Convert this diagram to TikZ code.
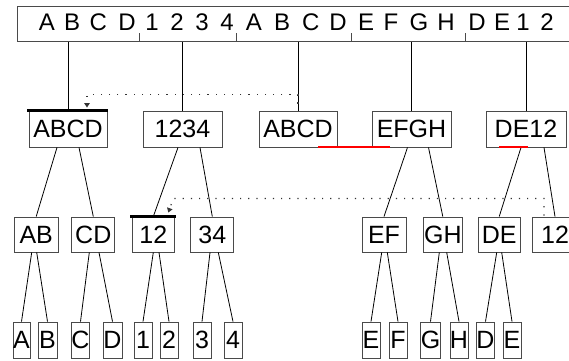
\documentclass[tikz,border=0pt]{standalone}
\usepackage{fontspec}
\setmainfont{Liberation Sans}
\usetikzlibrary{arrows.meta}
\definecolor{boxc}{HTML}{4A4A4A}
\definecolor{dotc}{HTML}{333333}
\begin{document}
\begin{tikzpicture}[x=1pt,y=-1pt,
  box/.style={draw=boxc, fill=white, line width=0.9pt, inner sep=0pt,
    font=\fontsize{25}{27}\selectfont},
  lvlone/.style={box, minimum height=36pt},
  lvltwo/.style={box, minimum height=35pt},
  leaf/.style={box, minimum height=36pt},
  ch/.style={inner sep=0pt, anchor=base, font=\fontsize{24}{26}\selectfont},
  edge/.style={line width=0.8pt, black},
  thickbar/.style={line width=3.5pt, black, shorten <=-1.5pt, shorten >=-1pt},
  redbar/.style={line width=2pt, red},
  dotlink/.style={dotc, line width=1.2pt, dash pattern=on 1.2pt off 7pt},
  tip/.style={-{Triangle[width=5.5pt,length=4.5pt]}}
]
\useasboundingbox (0,0) rectangle (569,360);
\clip (0,0) rectangle (569,360);

% top sequence box
\node[draw=boxc, line width=0.9pt, minimum width=600pt, minimum height=35pt,
  inner sep=0pt, anchor=north west] (top) at (17,6) {};
\foreach \c/\x [count=\i] in {A/46.8,B/72.2,C/98.3,D/127,1/152,2/177,3/202,4/227,
  A/253.8,B/282,C/310.8,D/338,E/366,F/391,G/419,H/446,D/477,E/502,1/523,2/547}
  \node[ch] (t\i) at (\x,30) {\c};
\foreach \x in {122,219,334,448}
  \draw[boxc, line width=0.9pt] ([xshift=\x pt]top.south west) -- ++(0,-9);

% level 1
\node[lvlone, minimum width=78pt] (L1a) at (68,129) {ABCD};
\node[lvlone, minimum width=79pt] (L1b) at (182.5,129) {1234};
\node[lvlone, minimum width=78pt] (L1c) at (298,129) {ABCD};
\node[lvlone, minimum width=79pt] (L1d) at (411.5,129) {EFGH};
\node[lvlone, minimum width=80pt] (L1e) at (526,129) {DE12};

% level 2
\node[lvltwo, minimum width=44pt] (L2a) at (36.2,234.5) {AB};
\node[lvltwo, minimum width=43pt] (L2b) at (93.3,234.5) {CD};
\node[lvltwo, minimum width=42pt] (L2c) at (153.3,234.5) {12};
\node[lvltwo, minimum width=43pt] (L2d) at (212.3,234.5) {34};
\node[lvltwo, minimum width=44pt] (L2e) at (384,234.5) {EF};
\node[lvltwo, minimum width=39pt] (L2f) at (442.8,234.5) {GH};
\node[lvltwo, minimum width=42pt] (L2g) at (499.2,234.5) {DE};
\node[lvltwo, minimum width=46pt] (L2h) at (555,234.5) {12};

% leaves
\node[leaf, minimum width=17pt] (la) at (21.5,340) {A};
\node[leaf, minimum width=19pt] (lb) at (47.5,340) {B};
\node[leaf, minimum width=17pt] (lc) at (80.5,340) {C};
\node[leaf, minimum width=19pt] (ld) at (112.5,340) {D};
\node[leaf, minimum width=18pt] (l1) at (143,340) {1};
\node[leaf, minimum width=18pt] (l2) at (169,340) {2};
\node[leaf, minimum width=18pt] (l3) at (202,340) {3};
\node[leaf, minimum width=18pt] (l4) at (233,340) {4};
\node[leaf, minimum width=18pt] (le) at (371,340) {E};
\node[leaf, minimum width=18pt] (lf) at (398,340) {F};
\node[leaf, minimum width=17pt] (lg) at (430.5,340) {G};
\node[leaf, minimum width=18pt] (lh) at (459,340) {H};
\node[leaf, minimum width=17pt] (ld2) at (485.5,340) {D};
\node[leaf, minimum width=18pt] (le2) at (512,340) {E};

% connectors from the top sequence
\foreach \n in {L1a,L1b,L1c,L1d,L1e}
  \draw[edge] (\n.north) -- (\n.north |- top.south);

% level 1 -> level 2
\draw[edge] ([xshift=-11pt]L1a.south) -- (L2a.north);
\draw[edge] ([xshift=11pt]L1a.south) -- (L2b.north);
\draw[edge] ([xshift=-4.5pt]L1b.south) -- (L2c.north);
\draw[edge] ([xshift=17.5pt]L1b.south) -- (L2d.north);
\draw[edge] ([xshift=-4pt]L1d.south) -- (L2e.north);
\draw[edge] ([xshift=17pt]L1d.south) -- (L2f.north);
\draw[edge] ([xshift=-5pt]L1e.south) -- (L2g.north);
\draw[edge] ([xshift=18pt]L1e.south) -- (L2h.north);

% level 2 -> leaves
\draw[edge] ([xshift=-4.5pt]L2a.south) -- (la.north);
\draw[edge] ([xshift=0.5pt]L2a.south) -- (lb.north);
\draw[edge] ([xshift=-4pt]L2b.south) -- (lc.north);
\draw[edge] ([xshift=5.7pt]L2b.south) -- (ld.north);
\draw[edge] ([xshift=0pt]L2c.south) -- (l1.north);
\draw[edge] ([xshift=5.7pt]L2c.south) -- (l2.north);
\draw[edge] ([xshift=-2.3pt]L2d.south) -- (l3.north);
\draw[edge] ([xshift=6pt]L2d.south) -- (l4.north);
\draw[edge] ([xshift=-2.3pt]L2e.south) -- (le.north);
\draw[edge] ([xshift=3.3pt]L2e.south) -- (lf.north);
\draw[edge] ([xshift=-3.5pt]L2f.south) -- (lg.north);
\draw[edge] ([xshift=3.9pt]L2f.south) -- (lh.north);
\draw[edge] ([xshift=-2.5pt]L2g.south) -- (ld2.north);
\draw[edge] ([xshift=2.5pt]L2g.south) -- (le2.north);

% thick bars
\draw[thickbar] (L1a.north west) -- (L1a.north east);
\draw[thickbar] (L2c.north west) -- (L2c.north east);

% red markers
\draw[redbar] ([xshift=20pt]L1c.south) -- ([xshift=-21.5pt]L1d.south);
\draw[redbar] ([xshift=-27pt]L1e.south) -- ([xshift=2pt]L1e.south);

% dotted links
\draw[dotlink, tip] ([yshift=7pt]L1c.north) -- ++(0,-9)
  -| ([xshift=19pt,yshift=3pt]L1a.north);
\draw[dotlink, tip] ([xshift=-11pt,yshift=1pt]L2h.north) -- ++(0,-17)
  -- ([xshift=20pt,yshift=18pt]L2c.north) -- ([xshift=15pt,yshift=4pt]L2c.north);
\end{tikzpicture}
\end{document}
